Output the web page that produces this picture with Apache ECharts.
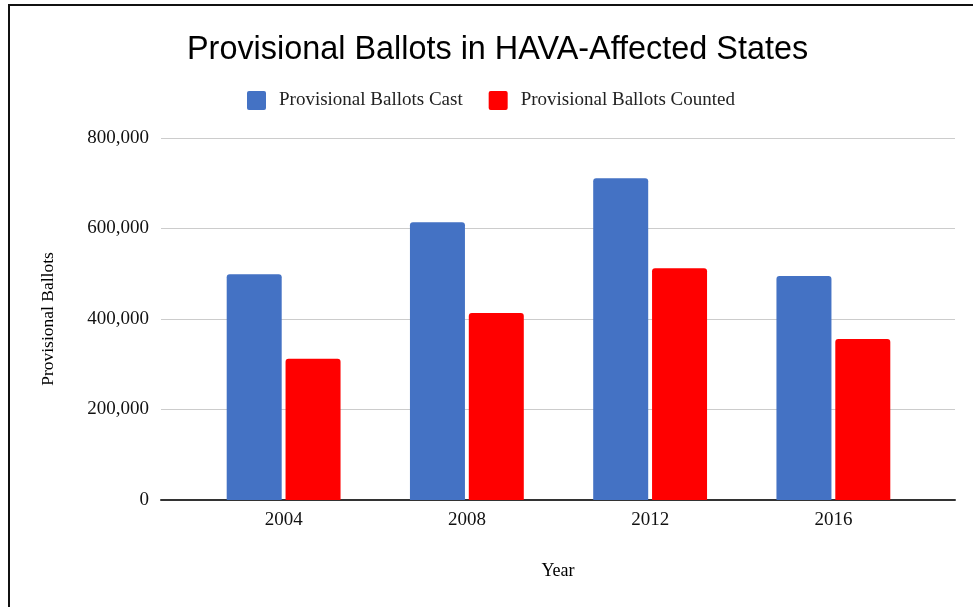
<!DOCTYPE html>
<html><head><meta charset="utf-8">
<script src="https://cdn.jsdelivr.net/npm/echarts@6/dist/echarts.min.js"></script>
<style>html,body{margin:0;padding:0;background:#fff}#c{width:973px;height:607px}</style>
</head><body><div id="c"></div>
<script>
const categories = ['2004', '2008', '2012', '2016'];
const castValues = [499000, 614000, 711000, 495000];
const countedValues = [312000, 413000, 512000, 356000];
const yTicks = [0, 200000, 400000, 600000, 800000];

const chart = echarts.init(document.getElementById('c'));
const serif = 'Liberation Serif';
chart.setOption({
  animation: false,
  backgroundColor: '#fff',
  graphic: [
    { type: 'line', shape: { x1: 9, y1: 5, x2: 9, y2: 607 }, style: { stroke: '#111', lineWidth: 2 } },
    { type: 'line', shape: { x1: 8, y1: 5, x2: 973, y2: 5 }, style: { stroke: '#111', lineWidth: 2 } }
  ],
  title: {
    text: 'Provisional Ballots in HAVA-Affected States',
    left: 182, top: 29,
    textStyle: { fontFamily: 'Liberation Sans', fontSize: 32.4, fontWeight: 'normal', color: '#000' }
  },
  legend: {
    left: 242, top: 86, itemWidth: 19, itemHeight: 19, itemGap: 26,
    icon: 'path://M2,0 L17,0 Q19,0 19,2 L19,17 Q19,19 17,19 L2,19 Q0,19 0,17 L0,2 Q0,0 2,0 Z',
    textStyle: { fontFamily: serif, fontSize: 19, color: '#222', padding: [0, 0, 0, 8] },
    data: ['Provisional Ballots Cast', 'Provisional Ballots Counted']
  },
  grid: [
    { left: 161, right: 18, top: 138, bottom: 107 },
    { left: 192, right: 48, top: 138, bottom: 107 }
  ],
  xAxis: [
    { type: 'value', gridIndex: 0, min: 0, max: 1, show: true,
      axisLabel: { show: false }, axisTick: { show: false }, splitLine: { show: false },
      axisLine: { show: true, onZero: false, lineStyle: { color: '#333', width: 2 } },
      name: 'Year', nameLocation: 'middle', nameGap: 62,
      nameTextStyle: { fontFamily: serif, fontSize: 18, color: '#000' } },
    { type: 'category', gridIndex: 1, data: categories,
      axisLine: { show: false }, axisTick: { show: false },
      axisLabel: { fontFamily: serif, fontSize: 19, color: '#111', margin: 11 } }
  ],
  yAxis: [
    { type: 'value', gridIndex: 0, min: 0, max: 800000, interval: 200000,
      axisLine: { show: false }, axisTick: { show: false },
      splitLine: { lineStyle: { color: '#ccc', width: 1 } },
      axisLabel: { fontFamily: serif, fontSize: 19, color: '#111', margin: 12,
        formatter: v => yTicks.includes(v) ? v.toLocaleString('en-US') : '' },
      name: 'Provisional Ballots', nameLocation: 'middle', nameGap: 104, nameRotate: 90,
      nameTextStyle: { fontFamily: serif, fontSize: 17.5, color: '#000' } },
    { type: 'value', gridIndex: 1, min: 0, max: 800000, interval: 200000, show: false,
      splitLine: { show: false } }
  ],
  series: [
    { name: 'Provisional Ballots Cast', type: 'bar', xAxisIndex: 1, yAxisIndex: 1,
      data: castValues, barWidth: 55, barGap: '7%',
      itemStyle: { color: '#4472C4', borderRadius: [3, 3, 0, 0] } },
    { name: 'Provisional Ballots Counted', type: 'bar', xAxisIndex: 1, yAxisIndex: 1,
      data: countedValues, barWidth: 55, barGap: '7%',
      itemStyle: { color: '#FF0000', borderRadius: [3, 3, 0, 0] } }
  ]
});
</script></body></html>
